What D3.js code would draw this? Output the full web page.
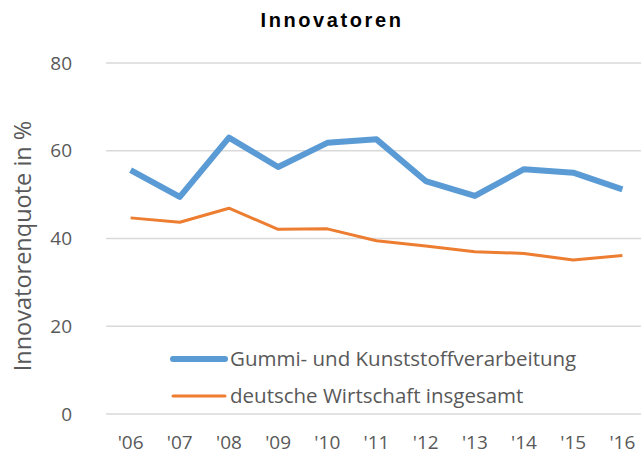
<!DOCTYPE html>
<html>
<head>
<meta charset="utf-8">
<script src="https://cdn.jsdelivr.net/npm/d3@7"></script>
<style>
  body { margin: 0; background: #fff; }
  text { font-family: "Open Sans", "Noto Sans", sans-serif; }
</style>
</head>
<body>
<svg id="chart"></svg>
<script>
var years = ["'06", "'07", "'08", "'09", "'10", "'11", "'12", "'13", "'14", "'15", "'16"];
var gummi = [55.6, 49.5, 63.0, 56.3, 61.8, 62.6, 53.1, 49.7, 55.8, 55.0, 51.2];
var gesamt = [44.7, 43.7, 46.9, 42.1, 42.2, 39.5, 38.3, 37.0, 36.6, 35.1, 36.1];
var yTicks = [0, 20, 40, 60, 80];
var seriesNames = ["Gummi- und Kunststoffverarbeitung", "deutsche Wirtschaft insgesamt"];

var W = 641, H = 456;
var margin = {top: 63, right: 0, bottom: 42, left: 106},
    width = W - margin.left - margin.right,
    height = H - margin.top - margin.bottom;

var svg = d3.select("#chart").attr("width", W).attr("height", H);
var g = svg.append("g").attr("transform", "translate(" + margin.left + "," + margin.top + ")");

var x = d3.scaleBand().domain(years).range([0, 541]).padding(0);
var y = d3.scaleLinear().domain([0, 80]).range([height, 0]);

// gridlines
g.selectAll(".grid").data(yTicks).enter().append("line")
  .attr("x1", 0).attr("x2", width)
  .attr("y1", d => y(d)).attr("y2", d => y(d))
  .attr("stroke", "#d9d9d9").attr("stroke-width", 1.3);

// y axis labels
var yAxis = g.append("g").call(d3.axisLeft(y).tickValues(yTicks).tickSize(0).tickPadding(34));
yAxis.select(".domain").remove();
yAxis.selectAll("text").attr("fill", "#595959").style("font-size", "19px")
  .style("font-family", "'Open Sans', sans-serif");

// x axis labels
var xAxis = g.append("g").attr("transform", "translate(0," + height + ")")
  .call(d3.axisBottom(x).tickSize(0).tickPadding(22));
xAxis.select(".domain").remove();
xAxis.selectAll("text").attr("fill", "#595959").style("font-size", "19px")
  .style("font-family", "'Open Sans', sans-serif");

var line = d3.line()
  .x((d, i) => x(years[i]) + x.bandwidth() / 2)
  .y(d => y(d));

g.append("path").datum(gesamt).attr("d", line)
  .attr("fill", "none").attr("stroke", "#ED7D31").attr("stroke-width", 3)
  .attr("stroke-linejoin", "round");
g.append("path").datum(gummi).attr("d", line)
  .attr("fill", "none").attr("stroke", "#5B9BD5").attr("stroke-width", 6)
  .attr("stroke-linejoin", "round");

// title
svg.append("text").attr("x", 332).attr("y", 27).attr("text-anchor", "middle")
  .style("font-family", "'Liberation Sans', Arial, sans-serif")
  .style("font-size", "20px").style("font-weight", "bold").attr("fill", "#000")
  .attr("letter-spacing", "2.6px")
  .text("Innovatoren");

// y axis title
svg.append("text").attr("transform", "translate(31," + 246 + ") rotate(-90)")
  .attr("text-anchor", "middle").attr("fill", "#595959").style("font-size", "23.5px")
  .text("Innovatorenquote in %");

// legend
var legend = svg.append("g");
var colors = ["#5B9BD5", "#ED7D31"], widths = [6, 3], ly = [359, 396];
seriesNames.forEach(function(name, i) {
  legend.append("line").attr("x1", 173).attr("x2", 225).attr("y1", ly[i]).attr("y2", ly[i])
    .attr("stroke", colors[i]).attr("stroke-width", widths[i]).attr("stroke-linecap", "round");
  legend.append("text").attr("x", 230).attr("y", ly[i] + 7).attr("fill", "#595959")
    .style("font-size", "20.5px").text(name);
});
</script>
</body>
</html>
